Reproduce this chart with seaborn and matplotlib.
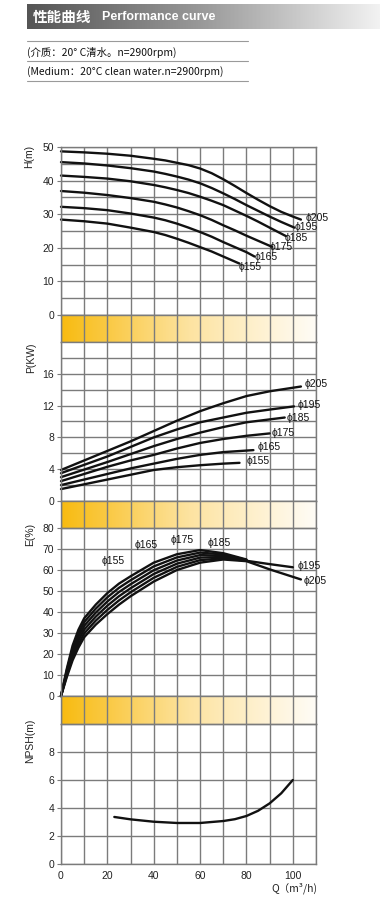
import numpy as np
import matplotlib
matplotlib.use('Agg')
import matplotlib.pyplot as plt
import seaborn as sns
from matplotlib.colors import LinearSegmentedColormap

sns.set_style('white')
plt.rcParams['font.family'] = ['Liberation Sans', 'Noto Sans CJK SC', 'DejaVu Sans']
plt.rcParams['axes.unicode_minus'] = False

# ---- data ----
sizes = ['ϕ155', 'ϕ165', 'ϕ175', 'ϕ185', 'ϕ195', 'ϕ205']

# head H(m) vs Q
q_h155 = [0, 10, 20, 30, 40, 45, 50, 55, 60, 65, 70, 77]
h_155 = [28.4, 27.9, 27.2, 26.0, 24.7, 23.8, 22.7, 21.5, 20.2, 18.9, 17.4, 15.3]
q_h165 = [0, 10, 20, 30, 40, 45, 50, 55, 60, 65, 70, 75, 80, 83.5]
h_165 = [32.2, 31.8, 31.2, 30.2, 29.0, 28.2, 27.2, 26.0, 24.7, 23.3, 21.7, 20.2, 18.7, 17.4]
q_h175 = [0, 10, 20, 30, 40, 45, 50, 55, 60, 65, 70, 75, 80, 85, 91]
h_175 = [36.9, 36.4, 35.7, 34.8, 33.7, 32.9, 32.0, 30.9, 29.7, 28.3, 26.7, 25.2, 23.6, 22.1, 20.3]
q_h185 = [0, 10, 20, 30, 40, 45, 50, 55, 60, 65, 70, 75, 80, 85, 90, 97]
h_185 = [41.5, 41.1, 40.6, 39.8, 38.7, 38.0, 37.2, 36.3, 35.2, 34.0, 32.7, 31.1, 29.5, 27.8, 26.0, 23.5]
q_h195 = [0, 10, 20, 30, 40, 45, 50, 55, 60, 65, 70, 75, 80, 85, 90, 95, 100.7]
h_195 = [45.5, 45.1, 44.5, 43.7, 42.7, 42.0, 41.2, 40.3, 39.2, 37.8, 36.2, 34.5, 32.7, 31.0, 29.3, 27.7, 26.0]
q_h205 = [0, 10, 20, 30, 40, 45, 50, 55, 60, 65, 70, 75, 80, 85, 90, 95, 100, 103.5]
h_205 = [48.7, 48.4, 48.0, 47.4, 46.5, 46.0, 45.3, 44.6, 43.6, 42.2, 40.4, 38.4, 36.3, 34.3, 32.4, 30.7, 29.3, 28.4]

# power P(KW) vs Q
q_p155 = [0, 10, 20, 30, 40, 50, 60, 70, 77]
p_155 = [1.5, 2.1, 2.7, 3.3, 3.9, 4.25, 4.5, 4.7, 4.8]
q_p165 = [0, 10, 20, 30, 40, 50, 60, 70, 83]
p_165 = [2.0, 2.7, 3.4, 4.1, 4.7, 5.3, 5.8, 6.15, 6.4]
q_p175 = [0, 10, 20, 30, 40, 50, 60, 70, 80, 90]
p_175 = [2.5, 3.4, 4.3, 5.1, 5.8, 6.6, 7.3, 7.8, 8.2, 8.5]
q_p185 = [0, 10, 20, 30, 40, 50, 60, 70, 80, 96.5]
p_185 = [3.0, 3.95, 4.9, 5.9, 6.9, 7.8, 8.6, 9.3, 9.9, 10.5]
q_p195 = [0, 10, 20, 30, 40, 50, 60, 70, 80, 90, 100.5]
p_195 = [3.5, 4.55, 5.6, 6.8, 8.0, 9.0, 9.9, 10.5, 11.1, 11.5, 11.9]
q_p205 = [0, 10, 20, 30, 40, 50, 60, 70, 80, 90, 103.5]
p_205 = [3.9, 5.1, 6.3, 7.5, 8.8, 10.1, 11.3, 12.3, 13.2, 13.8, 14.4]

# efficiency E(%) vs Q
q_e = [0, 2.5, 5, 7.5, 10, 15, 20, 25, 30, 40, 50, 60, 70, 80]
e_175 = [0, 13.0, 24.0, 31.5, 37.0, 43.5, 49.0, 53.5, 57.0, 63.5, 67.5, 69.5, 68.0, 65.0]
e_165 = [0, 12.2, 22.6, 29.8, 35.2, 41.6, 47.0, 51.5, 55.1, 61.7, 66.0, 68.3, 67.4, 64.8]
e_155 = [0, 11.4, 21.2, 28.1, 33.4, 39.7, 45.0, 49.5, 53.2, 59.9, 64.5, 67.1, 66.8, 64.7]
e_185 = [0, 10.6, 19.8, 26.4, 31.6, 37.8, 43.0, 47.5, 51.3, 58.1, 63.0, 65.9, 66.2, 64.5]
q_e195 = [0, 2.5, 5, 7.5, 10, 15, 20, 25, 30, 40, 50, 60, 70, 80, 90, 100]
e_195 = [0, 9.8, 18.4, 24.7, 29.8, 35.9, 41.0, 45.5, 49.4, 56.3, 61.5, 64.7, 65.6, 64.4, 62.8, 61.3]
q_e205 = [0, 2.5, 5, 7.5, 10, 15, 20, 25, 30, 40, 50, 60, 70, 80, 90, 103.5]
e_205 = [0, 9.0, 17.0, 23.0, 28.0, 34.0, 39.0, 43.5, 47.5, 54.5, 60.0, 63.5, 65.0, 64.2, 60.3, 55.5]

# NPSH(m) vs Q
q_npsh = [23, 30, 40, 50, 60, 70, 75, 80, 85, 90, 95, 100]
npsh = [3.36, 3.19, 3.02, 2.93, 2.93, 3.07, 3.2, 3.43, 3.8, 4.33, 5.05, 6.0]

# curve label anchors (Q, value)
h_lab = [(76.8, 14.2), (83.6, 17.2), (89.8, 20.2), (96.6, 23.0), (100.9, 26.2), (105.6, 29.0)]
p_lab = [(80.0, 5.0), (84.7, 6.8), (91.0, 8.6), (97.4, 10.4), (102.0, 12.1), (105.0, 14.7)]
e_lab = [(17.4, 64.2), (31.7, 72.1), (47.1, 74.5), (63.1, 72.9), (101.9, 61.8), (104.7, 54.7)]

# ---- layout ----
W, H = 380, 897
fig = plt.figure(figsize=(W / 100, H / 100), dpi=100)
GRID = '#7b7b7b'
LINE = '#111111'
X0, X1 = 61, 316


def px_axes(top, bottom, left=X0, right=X1):
    return fig.add_axes([left / W, 1 - bottom / H, (right - left) / W, (bottom - top) / H])


def ftext(x, y, s, **kw):
    return fig.text(x / W, 1 - y / H, s, **kw)


def setup(ax, ymax, major, minor):
    ax.set_xlim(0, 110)
    ax.set_ylim(0, ymax)
    ax.set_xticks(np.arange(0, 101, 20))
    ax.set_xticks(np.arange(0, 111, 10), minor=True)
    ax.set_yticks(major)
    ax.set_yticks(minor, minor=True)
    ax.grid(which='both', color=GRID, lw=1.0)
    ax.tick_params(axis='y', which='major', left=True, length=3, width=0.8, color=GRID,
                   labelsize=7.5, pad=2, labelcolor='#222')
    ax.tick_params(axis='y', which='minor', length=0)
    ax.tick_params(axis='x', which='both', length=0, labelbottom=False)
    for s in ax.spines.values():
        s.set_color(GRID)
        s.set_linewidth(1.0)
    ax.set_xlabel('')
    ax.set_ylabel('')


band_cmap = LinearSegmentedColormap.from_list('band', ['#f8bb10', '#fde3a0', '#fffcf6'])


def band(top, bottom):
    ax = px_axes(top, bottom)
    ax.imshow(np.linspace(0, 1, 256).reshape(1, -1), cmap=band_cmap, aspect='auto',
              extent=[0, 110, 0, 1], zorder=0)
    ax.set_xlim(0, 110)
    ax.set_ylim(0, 1)
    ax.set_xticks(np.arange(0, 111, 10))
    ax.set_yticks([])
    ax.grid(axis='x', color=GRID, lw=1.0)
    ax.tick_params(axis='x', length=0, labelbottom=False)
    for s in ax.spines.values():
        s.set_color(GRID)
        s.set_linewidth(1.0)
    return ax


def curve(ax, q, v):
    sns.lineplot(x=q, y=v, ax=ax, color=LINE, linewidth=1.7, sort=False, clip_on=False,
                 solid_joinstyle='round', solid_capstyle='round')


def labels(ax, pos):
    for name, (qx, vy) in zip(sizes, pos):
        ax.text(qx, vy, name, fontsize=7.5, ha='left', va='center', color='#111', clip_on=False)


# header bar
axh = fig.add_axes([27 / W, 1 - 29 / H, (W - 27) / W, 25 / H])
gray = LinearSegmentedColormap.from_list('hdr', ['#555555', '#9a9a9a', '#f2f2f2'])
axh.imshow(np.linspace(0, 1, 256).reshape(1, -1), cmap=gray, aspect='auto', extent=[0, 1, 0, 1])
axh.axis('off')
ftext(33, 17, '性能曲线', fontsize=10.5, fontweight='bold', color='white', va='center',
      family=['Noto Sans CJK SC'])
ftext(102, 17, 'Performance curve', fontsize=9, fontweight='bold', color='white', va='center')

for y in (41.5, 61.5, 81.5):
    fig.add_artist(plt.Line2D([27 / W, 248 / W], [1 - y / H, 1 - y / H], color='#9a9a9a', lw=0.8))
ftext(27, 52, '(介质：20° C清水。n=2900rpm)', fontsize=7.5, va='center', color='#111',
      family=['Noto Sans CJK SC', 'DejaVu Sans'])
ftext(27, 72, '(Medium：20°C clean water.n=2900rpm)', fontsize=7.5, va='center', color='#111',
      family=['Noto Sans CJK SC', 'DejaVu Sans'])

# H panel
axH = px_axes(147, 315)
for q, v in [(q_h155, h_155), (q_h165, h_165), (q_h175, h_175),
             (q_h185, h_185), (q_h195, h_195), (q_h205, h_205)]:
    curve(axH, q, v)
setup(axH, 50, np.arange(0, 51, 10), np.arange(5, 50, 10))
labels(axH, h_lab)

band(315, 342)

# P panel
axP = px_axes(342, 501)
for q, v in [(q_p155, p_155), (q_p165, p_165), (q_p175, p_175),
             (q_p185, p_185), (q_p195, p_195), (q_p205, p_205)]:
    curve(axP, q, v)
setup(axP, 20, np.arange(0, 17, 4), [2, 6, 10, 14, 18])
labels(axP, p_lab)

band(501, 528)

# E panel
axE = px_axes(528, 696)
for q, v in [(q_e, e_155), (q_e, e_165), (q_e, e_175),
             (q_e, e_185), (q_e195, e_195), (q_e205, e_205)]:
    curve(axE, q, v)
setup(axE, 80, np.arange(0, 81, 10), [])
labels(axE, e_lab)

band(696, 724)

# NPSH panel
axN = px_axes(724, 864)
curve(axN, q_npsh, npsh)
setup(axN, 10, np.arange(0, 9, 2), [10])
axN.tick_params(axis='x', which='major', labelbottom=True, length=3, width=0.8, color=GRID,
                labelsize=7.5, pad=2, labelcolor='#222')

# axis titles
ftext(29, 156, 'H(m)', rotation=90, fontsize=7.5, ha='center', va='center', color='#222')
ftext(31, 358, 'P(KW)', rotation=90, fontsize=7.5, ha='center', va='center', color='#222')
ftext(30, 534, 'E(%)', rotation=90, fontsize=7.5, ha='center', va='center', color='#222')
ftext(30, 741, 'NPSH(m)', rotation=90, fontsize=7.5, ha='center', va='center', color='#222')
ftext(317, 888, 'Q（m³/h)', fontsize=7.5, ha='right', va='center', color='#222',
      family=['Noto Sans CJK SC', 'DejaVu Sans'])

fig.savefig('out.png', dpi=100, facecolor='white')
